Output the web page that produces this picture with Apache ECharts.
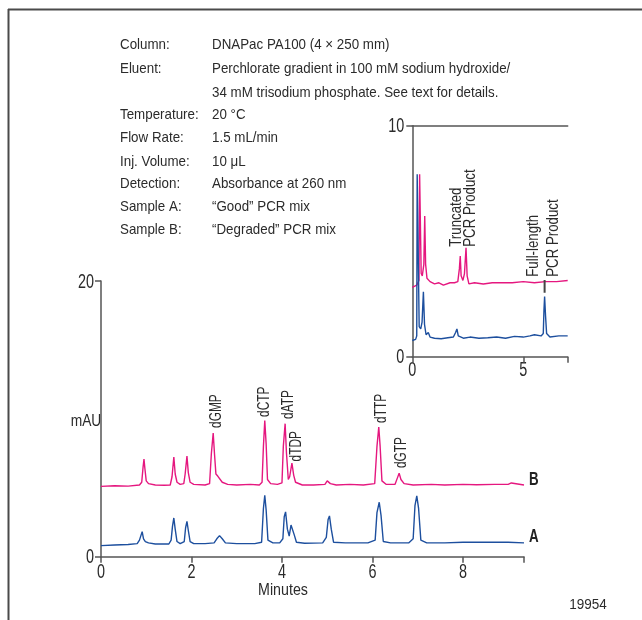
<!DOCTYPE html>
<html>
<head>
<meta charset="utf-8">
<script src="https://cdn.jsdelivr.net/npm/echarts@6/dist/echarts.min.js"></script>
<style>
html,body{margin:0;padding:0;background:#fff;}
#c{width:642px;height:620px;}
</style>
</head>
<body>
<div id="c"></div>
<script>
// ---- Data (minutes, mAU) ----
const sampleB = [[0,5.1],[0.3,5.15],[0.6,5.12],[0.85,5.2],[0.9,5.4],[0.93,6.5],[0.95,7.08],[0.97,6.4],[1.0,5.5],[1.05,5.3],[1.2,5.2],[1.4,5.18],[1.53,5.2],[1.57,5.8],[1.61,7.23],[1.64,6.0],[1.68,5.4],[1.75,5.25],[1.83,5.3],[1.86,6.0],[1.9,7.3],[1.93,6.1],[1.97,5.4],[2.05,5.25],[2.3,5.2],[2.4,5.3],[2.44,7.5],[2.48,8.97],[2.51,7.4],[2.54,6.0],[2.58,5.85],[2.62,5.8],[2.68,5.4],[2.8,5.25],[3.0,5.2],[3.3,5.25],[3.5,5.2],[3.56,5.4],[3.59,8.0],[3.62,9.87],[3.65,8.2],[3.68,5.6],[3.75,5.3],[3.9,5.25],[4.0,5.35],[4.03,8.0],[4.07,9.65],[4.1,7.5],[4.14,5.6],[4.17,5.8],[4.22,6.79],[4.26,5.9],[4.3,5.4],[4.45,5.2],[4.7,5.2],[4.95,5.25],[5.0,5.5],[5.03,5.58],[5.07,5.3],[5.2,5.2],[5.5,5.25],[5.8,5.2],[6.05,5.3],[6.1,8.0],[6.14,9.41],[6.17,8.0],[6.21,5.5],[6.3,5.25],[6.5,5.25],[6.55,5.7],[6.59,6.06],[6.63,5.6],[6.7,5.3],[6.9,5.2],[7.3,5.25],[7.6,5.2],[8.0,5.25],[8.3,5.22],[8.7,5.25],[9.0,5.25],[9.07,5.35],[9.1,5.25],[9.35,5.2]];
const sampleA = [[0,0.8],[0.3,0.85],[0.6,0.88],[0.8,0.95],[0.85,1.2],[0.88,1.3],[0.91,1.82],[0.94,1.3],[0.98,1.1],[1.05,1.0],[1.2,0.92],[1.5,0.92],[1.55,1.2],[1.58,2.2],[1.61,2.81],[1.64,2.0],[1.68,1.1],[1.75,0.95],[1.84,1.1],[1.87,2.1],[1.9,2.57],[1.93,1.9],[1.97,1.1],[2.05,0.95],[2.3,0.95],[2.5,1.0],[2.56,1.3],[2.62,1.53],[2.68,1.3],[2.75,1.0],[3.0,0.95],[3.4,0.95],[3.55,1.05],[3.59,3.5],[3.62,4.46],[3.65,3.4],[3.69,1.2],[3.8,1.0],[3.95,1.0],[4.02,1.3],[4.05,2.9],[4.08,3.25],[4.12,2.0],[4.16,1.5],[4.2,2.3],[4.23,2.43],[4.27,1.6],[4.32,1.05],[4.5,0.98],[4.9,1.0],[4.98,1.4],[5.02,2.7],[5.05,2.96],[5.09,2.0],[5.14,1.05],[5.4,1.0],[5.9,1.0],[6.06,1.2],[6.1,3.2],[6.15,3.95],[6.19,3.0],[6.24,1.1],[6.4,1.0],[6.8,1.0],[6.9,1.3],[6.94,3.7],[6.98,4.41],[7.02,3.5],[7.07,1.2],[7.2,1.0],[7.6,1.0],[8.0,1.05],[8.5,1.05],[9.0,1.05],[9.35,1.0]];
const insetB = [[0,3.0],[0.2,3.1],[0.3,3.3],[0.33,7.9],[0.36,7.9],[0.4,3.6],[0.45,3.5],[0.52,4.0],[0.56,6.09],[0.6,4.0],[0.66,3.4],[0.8,3.25],[1.0,3.15],[1.2,3.2],[1.4,3.1],[1.7,3.2],[1.9,3.2],[2.05,3.25],[2.12,3.8],[2.16,4.36],[2.2,3.5],[2.28,3.3],[2.35,3.6],[2.42,4.72],[2.47,3.5],[2.55,3.15],[2.8,3.2],[3.2,3.15],[3.6,3.2],[4.0,3.2],[4.5,3.2],[5.0,3.25],[5.5,3.2],[6.0,3.25],[6.5,3.25],[7.0,3.3]];
const insetA = [[0,0.7],[0.15,0.75],[0.2,0.9],[0.22,7.9],[0.27,7.9],[0.31,1.3],[0.38,1.2],[0.44,1.5],[0.5,2.81],[0.55,1.4],[0.62,0.95],[0.72,1.05],[0.8,0.85],[1.0,0.8],[1.3,0.78],[1.6,0.82],[1.85,0.85],[1.95,1.05],[2.01,1.2],[2.07,0.9],[2.3,0.8],[2.6,0.85],[3.0,0.8],[3.4,0.82],[3.8,0.85],[4.2,0.8],[4.6,0.88],[5.0,0.85],[5.3,0.9],[5.5,0.95],[5.8,0.9],[5.9,1.0],[5.93,2.0],[5.96,2.6],[6.0,1.8],[6.05,1.0],[6.2,0.85],[6.6,0.9],[7.0,0.9]];

// peak labels: [minutes, mAU at bottom of text, text]
const peakLabels = [[2.54,9.34,'dGMP'],[3.6,10.14,'dCTP'],[4.14,9.99,'dATP'],[4.31,6.91,'dTDP'],[6.2,9.7,'dTTP'],[6.63,6.43,'dGTP']];
const insetLabels = [[1.97,4.76,'Truncated'],[2.6,4.76,'PCR Product'],[5.45,3.46,'Full-length'],[6.35,3.46,'PCR Product']];
const insetMarker = [[5.96,2.77],[5.96,3.32]];

// axis ranges and tick labels
const mainXTicks = {min:0, max:9.35, interval:2};
const mainYTicks = {min:0, max:20, interval:20};
const insetXTicks = {min:0, max:7, interval:5};
const insetYTicks = {min:0, max:10, interval:10};
const mainXLabels = [0,2,4,6,8];
const mainYLabels = [0,20];
const insetXLabels = [0,5];
const insetYLabels = [0,10];

const settingNames = ['Column:','Eluent:','','Temperature:','Flow Rate:','Inj. Volume:','Detection:','Sample A:','Sample B:'];
const settingValues = ['DNAPac PA100 (4 × 250 mm)','Perchlorate gradient in 100 mM sodium hydroxide/','34 mM trisodium phosphate. See text for details.','20 °C','1.5 mL/min','10 μL','Absorbance at 260 nm','“Good” PCR mix','“Degraded” PCR mix'];

// ---- Style ----
const TFONT = "'Liberation Sans',Arial,sans-serif";
const PINK = '#e5177f';
const BLUE = '#1d4f9e';
const AX = '#555555';
const TXT = '#2b2b2b';

const chart = echarts.init(document.getElementById('c'), null, {renderer:'canvas'});

function axisX(grid, t, extra){
  return Object.assign({
    type:'value', gridIndex:grid, min:t.min, max:t.max, interval:t.interval,
    axisLine:{show:true, onZero:false, lineStyle:{color:AX, width:1.5}},
    axisTick:{show:true, length:6, lineStyle:{color:AX, width:1.5}},
    axisLabel:{show:false},
    splitLine:{show:false}
  }, extra||{});
}
function axisY(grid, t, extra){
  return Object.assign({
    type:'value', gridIndex:grid, min:t.min, max:t.max, interval:t.interval,
    axisLine:{show:true, onZero:false, lineStyle:{color:AX, width:1.5}},
    axisTick:{show:true, length:6, lineStyle:{color:AX, width:1.5}},
    axisLabel:{show:false},
    splitLine:{show:false}
  }, extra||{});
}
function trace(x, y, data, color){
  return {type:'line', xAxisIndex:x, yAxisIndex:y, data:data, showSymbol:false, symbol:'none',
    lineStyle:{color:color, width:1.4}, silent:true, animation:false};
}
function txt(text, x, y, size, align, sx, bold, rot){
  return {type:'text', x:x, y:y, scaleX:sx, rotation:rot||0, silent:true,
    style:{text:text, font:(bold?'bold ':'')+size+'px '+TFONT, fill:bold?'#222':TXT, textAlign:align, textVerticalAlign:'middle'}};
}

const graphics = [
  {type:'line', shape:{x1:8, y1:9.5, x2:642, y2:9.5}, style:{stroke:'#4a4a4a', lineWidth:2}},
  {type:'line', shape:{x1:8.5, y1:9, x2:8.5, y2:620}, style:{stroke:'#4a4a4a', lineWidth:2}},
  txt('mAU', 86, 422, 16, 'center', 0.86),
  txt('Minutes', 283, 591, 16, 'center', 0.89),
  txt('19954', 588, 605, 15, 'center', 0.9),
  txt('B', 529, 480, 18, 'left', 0.74, true),
  txt('A', 529, 537, 18, 'left', 0.74, true)
];
const rowY = [45,69,92.5,115,138,161.5,184,207,230];
settingNames.forEach((s,i)=>{
  if(s) graphics.push(txt(s, 120, rowY[i], 15, 'left', 0.89));
  graphics.push(txt(settingValues[i], 212, rowY[i], 15, 'left', 0.89));
});

const option = {
  animation:false,
  backgroundColor:'#ffffff',
  grid:[
    {left:101, top:281, width:423, height:275.7},
    {left:412.3, top:125.7, width:155.4, height:231}
  ],
  xAxis:[
    axisX(0, mainXTicks),
    axisX(1, insetXTicks),
    axisX(1, insetXTicks, {position:'top', axisTick:{show:false}})
  ],
  yAxis:[
    axisY(0, mainYTicks),
    axisY(1, insetYTicks)
  ],
  series:[
    trace(0,0,sampleB,PINK),
    trace(0,0,sampleA,BLUE),
    trace(1,1,insetB,PINK),
    trace(1,1,insetA,BLUE),
    {type:'line', xAxisIndex:1, yAxisIndex:1, data:insetMarker, showSymbol:false, symbol:'none',
      lineStyle:{color:'#444', width:2}, silent:true, z:4}
  ],
  graphic:graphics
};
chart.setOption(option);

// tick labels and peak annotations placed through the axes' own scales
const extra = [];
function addTicks(xi, yi, xs, ys, xOff, yOff){
  const x0 = chart.convertToPixel({xAxisIndex:xi}, 0);
  const y0 = chart.convertToPixel({yAxisIndex:yi}, 0);
  xs.forEach(v=>{
    extra.push(txt(String(v), chart.convertToPixel({xAxisIndex:xi}, v), y0 + yOff, 20, 'center', 0.72));
  });
  ys.forEach(v=>{
    extra.push(txt(String(v), x0 - xOff, chart.convertToPixel({yAxisIndex:yi}, v) + 1, 20, 'right', 0.72));
  });
}
function addPeakLabels(gi, list, size, sx){
  list.forEach(d=>{
    const p = chart.convertToPixel({gridIndex:gi}, [d[0], d[1]]);
    extra.push(txt(d[2], p[0], p[1], size, 'left', sx, false, Math.PI/2));
  });
}
addTicks(0, 0, mainXLabels, mainYLabels, 7, 15.5);
addTicks(1, 1, insetXLabels, insetYLabels, 8, 13.5);
addPeakLabels(0, peakLabels, 17, 0.7);
addPeakLabels(1, insetLabels, 17, 0.78);
chart.setOption({graphic: graphics.concat(extra)});
</script>
</body>
</html>
